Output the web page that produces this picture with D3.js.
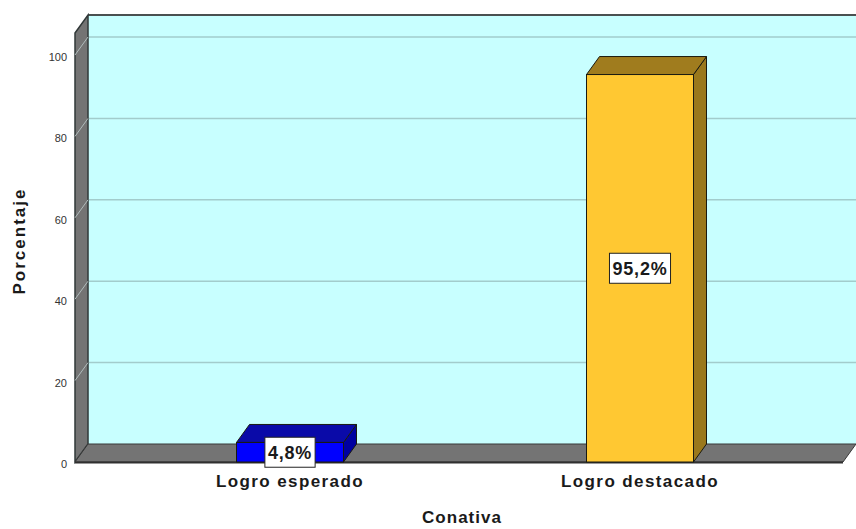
<!DOCTYPE html>
<html>
<head>
<meta charset="utf-8">
<script src="https://cdn.jsdelivr.net/npm/d3@7"></script>
<style>
  body { margin: 0; background: #fff; }
  svg { display: block; font-family: "Liberation Sans", Arial, sans-serif; }
</style>
</head>
<body>
<div id="svg-container"></div>
<script>
// data
const categories = ['Logro esperado', 'Logro destacado']
const values = [4.8, 95.2]
const valueLabels = ['4,8%', '95,2%']
const yTicks = [0, 20, 40, 60, 80, 100]
const barColors = [
    {front: '#0000ff', top: '#0a0aa8', side: '#0000a0'},
    {front: '#ffc832', top: '#a07c1e', side: '#9a781c'}
]

// dimensions
const dim = {
    width: 856,
    height: 529,
    plot: {left: 75, right: 843, top: 55, bottom: 462},
    depth: {dx: 13, dy: -18}
}

const svg = d3.select('#svg-container')
    .append('svg')
        .attr('width', dim.width)
        .attr('height', dim.height)

const p = dim.plot
const dx = dim.depth.dx, dy = dim.depth.dy

// scales
const yScale = d3.scaleLinear()
    .domain([0, 100])
    .range([p.bottom, p.top])

const xScale = d3.scaleBand()
    .domain(categories)
    .range([115, 815])

const barWidth = 107

const line = d3.line()
const poly = pts => line(pts) + 'Z'

// back wall
svg.append('path')
    .attr('d', poly([[p.left + dx, p.top - 22 + dy], [dim.width, p.top - 22 + dy],
                     [dim.width, p.bottom + dy], [p.left + dx, p.bottom + dy]]))
    .attr('fill', '#c8ffff')

// top edge of back wall
svg.append('line')
    .attr('x1', p.left + dx).attr('x2', dim.width)
    .attr('y1', p.top - 22 + dy).attr('y2', p.top - 22 + dy)
    .attr('stroke', '#4a5050').attr('stroke-width', 2)

// gridlines on the back wall
svg.append('g')
    .selectAll('line')
    .data(yTicks.filter(d => d > 0))
    .join('line')
        .attr('x1', p.left + dx)
        .attr('x2', dim.width)
        .attr('y1', d => yScale(d) + dy)
        .attr('y2', d => yScale(d) + dy)
        .attr('stroke', '#a2cccc')
        .attr('stroke-width', 1.5)

// left wall
svg.append('path')
    .attr('d', poly([[p.left, p.top - 22], [p.left + dx, p.top - 22 + dy],
                     [p.left + dx, p.bottom + dy], [p.left, p.bottom]]))
    .attr('fill', '#747474')
    .attr('stroke', '#303838')
    .attr('stroke-width', 1.5)

// gridlines on the left wall
svg.append('g')
    .selectAll('line')
    .data(yTicks.filter(d => d > 0))
    .join('line')
        .attr('x1', p.left)
        .attr('x2', p.left + dx)
        .attr('y1', d => yScale(d))
        .attr('y2', d => yScale(d) + dy)
        .attr('stroke', '#b0bcbc')
        .attr('stroke-width', 1)

// floor
svg.append('path')
    .attr('d', poly([[p.left, p.bottom], [p.right, p.bottom],
                     [p.right + dx, p.bottom + dy], [p.left + dx, p.bottom + dy]]))
    .attr('fill', '#747474')
    .attr('stroke', '#383838')
    .attr('stroke-width', 1)

svg.append('line')
    .attr('x1', p.left).attr('x2', p.right)
    .attr('y1', p.bottom + 0.5).attr('y2', p.bottom + 0.5)
    .attr('stroke', '#303030').attr('stroke-width', 2)

// y axis labels
svg.append('g')
    .selectAll('text')
    .data(yTicks)
    .join('text')
        .attr('x', 67)
        .attr('y', d => yScale(d) + 6)
        .attr('text-anchor', 'end')
        .attr('font-size', 11)
        .attr('fill', '#333')
        .text(d => d)

// bars
const bars = svg.append('g')
    .selectAll('g')
    .data(categories.map((c, i) => ({cat: c, value: values[i], label: valueLabels[i], col: barColors[i]})))
    .join('g')

const x0 = d => xScale(d.cat) + xScale.bandwidth() / 2 - barWidth / 2
const x1 = d => x0(d) + barWidth

bars.append('path')
    .attr('d', d => poly([[x1(d), yScale(d.value)], [x1(d) + dx, yScale(d.value) + dy],
                          [x1(d) + dx, yScale(0) + dy], [x1(d), yScale(0)]]))
    .attr('fill', d => d.col.side)
    .attr('stroke', '#1a1a10').attr('stroke-width', 1)

bars.append('path')
    .attr('d', d => poly([[x0(d), yScale(d.value)], [x0(d) + dx, yScale(d.value) + dy],
                          [x1(d) + dx, yScale(d.value) + dy], [x1(d), yScale(d.value)]]))
    .attr('fill', d => d.col.top)
    .attr('stroke', '#1a1a10').attr('stroke-width', 1)

bars.append('rect')
    .attr('x', d => x0(d))
    .attr('y', d => yScale(d.value))
    .attr('width', barWidth)
    .attr('height', d => yScale(0) - yScale(d.value))
    .attr('fill', d => d.col.front)
    .attr('stroke', '#1a1a10').attr('stroke-width', 1)

// value labels
const labels = bars.append('g')
    .attr('transform', d => `translate(${x0(d) + barWidth / 2}, ${yScale(d.value / 2)})`)

labels.append('text')
    .attr('text-anchor', 'middle')
    .attr('y', 7)
    .attr('font-size', 18)
    .attr('font-weight', 'bold')
    .attr('letter-spacing', 0.8)
    .attr('fill', '#1a1a1a')
    .text(d => d.label)

labels.each(function() {
    const g = d3.select(this)
    const bb = g.select('text').node().getBBox()
    g.insert('rect', 'text')
        .attr('x', bb.x - 3)
        .attr('y', -15)
        .attr('width', bb.width + 6)
        .attr('height', 30)
        .attr('fill', '#fff')
        .attr('stroke', '#222')
        .attr('stroke-width', 1)
})

// category labels
svg.append('g')
    .selectAll('text')
    .data(categories)
    .join('text')
        .attr('x', d => xScale(d) + xScale.bandwidth() / 2)
        .attr('y', 487)
        .attr('text-anchor', 'middle')
        .attr('font-size', 17)
        .attr('font-weight', 'bold')
        .attr('letter-spacing', 1.4)
        .attr('fill', '#1a1a1a')
        .text(d => d)

// axis titles
svg.append('text')
    .attr('x', 462)
    .attr('y', 523)
    .attr('text-anchor', 'middle')
    .attr('font-size', 17)
    .attr('font-weight', 'bold')
    .attr('letter-spacing', 1)
    .attr('fill', '#1a1a1a')
    .text('Conativa')

svg.append('text')
    .attr('transform', 'translate(25, 241) rotate(-90)')
    .attr('text-anchor', 'middle')
    .attr('font-size', 17)
    .attr('font-weight', 'bold')
    .attr('letter-spacing', 2)
    .attr('fill', '#1a1a1a')
    .text('Porcentaje')
</script>
</body>
</html>
